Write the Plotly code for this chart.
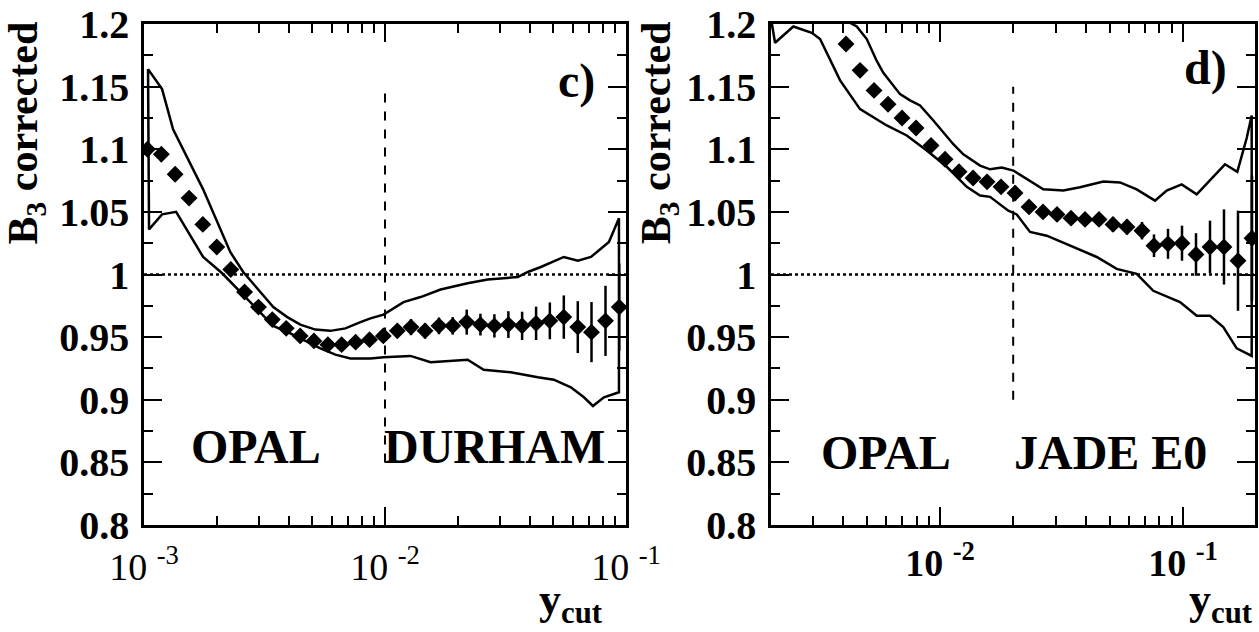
import math
import plotly.graph_objects as go

# ---------------- panel c) DURHAM ----------------
c_x = [1.033e-3, 1.180e-3, 1.346e-3, 1.538e-3, 1.754e-3, 2.004e-3, 2.291e-3, 2.614e-3,
       2.985e-3, 3.407e-3, 3.890e-3, 4.446e-3, 5.070e-3, 5.794e-3, 6.607e-3, 7.551e-3,
       8.630e-3, 9.840e-3, 1.125e-2, 1.282e-2, 1.466e-2, 1.675e-2, 1.910e-2, 2.183e-2,
       2.489e-2, 2.844e-2, 3.251e-2, 3.707e-2, 4.236e-2, 4.831e-2, 5.521e-2, 6.310e-2,
       7.194e-2, 8.222e-2, 9.376e-2]
c_y = [1.100, 1.096, 1.080, 1.061, 1.040, 1.022, 1.004, 0.986, 0.974, 0.964,
       0.957, 0.951, 0.947, 0.944, 0.944, 0.946, 0.948, 0.951, 0.955, 0.958,
       0.955, 0.959, 0.959, 0.962, 0.960, 0.959, 0.960, 0.959, 0.961, 0.963,
       0.966, 0.958, 0.954, 0.963, 0.974]
c_err = [0.002, 0.002, 0.002, 0.002, 0.002, 0.002, 0.002, 0.002, 0.002, 0.002,
         0.002, 0.002, 0.002, 0.002, 0.002, 0.002, 0.003, 0.003, 0.004, 0.0064,
         0.006, 0.0067, 0.007, 0.010, 0.0087, 0.0093, 0.0107, 0.0113, 0.0133, 0.0147,
         0.0173, 0.0207, 0.024, 0.028, 0.035]
c_up_x = [1.039e-3, 1.188e-3, 1.320e-3, 1.759e-3, 2.279e-3, 2.580e-3, 3.439e-3, 3.932e-3,
          4.453e-3, 5.140e-3, 5.934e-3, 6.851e-3, 7.908e-3, 8.703e-3, 9.858e-3, 1.194e-2,
          1.405e-2, 1.701e-2, 2.203e-2, 2.668e-2, 3.556e-2, 3.913e-2, 4.432e-2, 5.523e-2,
          6.317e-2, 7.155e-2, 8.499e-2, 9.352e-2]
c_up_y = [1.164, 1.148, 1.116, 1.068, 1.018, 1.002, 0.974, 0.966,
          0.960, 0.956, 0.955, 0.957, 0.962, 0.965, 0.968, 0.978,
          0.982, 0.988, 0.993, 0.996, 0.998, 1.002, 1.006, 1.014,
          1.011, 1.014, 1.026, 1.045]
c_lo_x = [1.049e-3, 1.188e-3, 1.359e-3, 1.759e-3, 2.110e-3, 2.507e-3, 2.951e-3, 3.439e-3,
          4.047e-3, 4.671e-3, 5.393e-3, 6.225e-3, 7.186e-3, 8.703e-3, 9.858e-3, 1.276e-2,
          1.546e-2, 2.203e-2, 2.568e-2, 3.325e-2, 4.307e-2, 5.019e-2, 5.906e-2, 6.691e-2,
          7.293e-2, 8.101e-2, 9.352e-2]
c_lo_y = [1.036, 1.048, 1.050, 1.014, 1.001, 0.986, 0.972, 0.959,
          0.953, 0.947, 0.941, 0.936, 0.933, 0.933, 0.934, 0.935,
          0.930, 0.932, 0.924, 0.922, 0.918, 0.916, 0.910, 0.902,
          0.895, 0.902, 0.906]

# ---------------- panel d) JADE E0 ----------------
d_x = [4.102e-3, 4.686e-3, 5.350e-3, 6.109e-3, 6.976e-3, 7.966e-3, 9.182e-3, 1.0486e-2,
       1.1974e-2, 1.3673e-2, 1.5613e-2, 1.7824e-2, 2.0354e-2, 2.3241e-2, 2.6537e-2, 3.0304e-2,
       3.4604e-2, 3.9512e-2, 4.5112e-2, 5.1513e-2, 5.8818e-2, 6.7795e-2, 7.5966e-2, 8.675e-2,
       9.906e-2, 1.1311e-1, 1.2915e-1, 1.4746e-1, 1.6838e-1, 1.9231e-1]
d_y = [1.184, 1.163, 1.147, 1.136, 1.125, 1.117, 1.103, 1.092, 1.082, 1.077,
       1.074, 1.070, 1.065, 1.054, 1.050, 1.048, 1.045, 1.044, 1.044, 1.040,
       1.038, 1.035, 1.023, 1.0245, 1.025, 1.016, 1.022, 1.022, 1.011, 1.029]
d_err = [0.002, 0.002, 0.002, 0.002, 0.002, 0.002, 0.002, 0.002, 0.002, 0.002,
         0.003, 0.003, 0.006, 0.003, 0.003, 0.003, 0.004, 0.004, 0.005, 0.006,
         0.006, 0.007, 0.009, 0.012, 0.014, 0.017, 0.021, 0.030, 0.040, 0.050]
d_up_x = [4.0e-3, 4.541e-3, 4.993e-3, 5.489e-3, 5.843e-3, 6.845e-3, 7.525e-3, 8.275e-3,
          9.385e-3, 1.1342e-2, 1.2469e-2, 1.4611e-2, 1.6063e-2, 1.7943e-2, 2.0028e-2, 2.3462e-2,
          2.6611e-2, 3.2173e-2, 3.7687e-2, 4.6989e-2, 5.5029e-2, 6.4476e-2, 7.669e-2, 8.568e-2,
          9.879e-2, 1.1387e-1, 1.2915e-1, 1.4887e-1, 1.6730e-1, 1.8290e-1, 1.9174e-1]
d_up_y = [1.204, 1.198, 1.188, 1.1705, 1.161, 1.144, 1.139, 1.135,
          1.123, 1.104, 1.096, 1.087, 1.084, 1.0855, 1.083, 1.075,
          1.068, 1.067, 1.0696, 1.0743, 1.0735, 1.068, 1.059, 1.067,
          1.072, 1.064, 1.075, 1.088, 1.082, 1.109, 1.127]
d_lo_x = [2.02e-3, 2.094e-3, 2.490e-3, 2.965e-3, 3.208e-3, 3.878e-3, 4.686e-3, 6.035e-3,
          7.295e-3, 8.816e-3, 1.0656e-2, 1.2878e-2, 1.4611e-2, 1.6063e-2, 1.9103e-2, 2.0684e-2,
          2.3462e-2, 2.7483e-2, 3.5370e-2, 4.4145e-2, 5.3359e-2, 6.4476e-2, 7.546e-2, 9.721e-2,
          1.1387e-1, 1.2915e-1, 1.4648e-1, 1.6634e-1, 1.9174e-1]
d_lo_y = [1.203, 1.185, 1.198, 1.193, 1.188, 1.155, 1.132, 1.119,
          1.111, 1.099, 1.086, 1.070, 1.063, 1.062, 1.051, 1.048,
          1.034, 1.031, 1.022, 1.014, 1.0045, 1.0006, 0.987, 0.978,
          0.967, 0.967, 0.958, 0.941, 0.935]

# reference lines
c_xrange = [1e-3, 1e-1]
d_xrange = [2.015e-3, 1.978e-1]
c_cut = 0.01
c_cut_y = [0.85, 1.15]
d_cut = 0.02
d_cut_y = [0.90, 1.15]

y_tickvals = [0.8, 0.85, 0.9, 0.95, 1.0, 1.05, 1.1, 1.15, 1.2]
y_ticktext = ["0.8", "0.85", "0.9", "0.95", "1", "1.05", "1.1", "1.15", "1.2"]
y_minor = [0.825, 0.875, 0.925, 0.975, 1.025, 1.075, 1.125, 1.175]
c_xticks = [1e-3, 1e-2, 1e-1]
c_xtext = ["10 <sup>-3</sup>", "10 <sup>-2</sup>", "10 <sup>-1</sup>"]
d_xticks = [1e-2, 1e-1]
d_xtext = ["10 <sup>-2</sup>", "10 <sup>-1</sup>"]
x_minor = [m * d for d in (1e-3, 1e-2, 1e-1) for m in range(2, 10)]

FONT = "Liberation Serif"
BLACK = "black"

fig = go.Figure()


def add_panel(xs, ys, errs, ux, uy, lx, ly, xr, cut, cut_y, xa, ya):
    band_x = list(ux) + list(lx[::-1]) + [ux[0]]
    band_y = list(uy) + list(ly[::-1]) + [uy[0]]
    fig.add_trace(go.Scatter(x=band_x, y=band_y, mode="lines",
                             line=dict(color=BLACK, width=2.5),
                             xaxis=xa, yaxis=ya, showlegend=False, hoverinfo="skip"))
    fig.add_trace(go.Scatter(x=xr, y=[1.0, 1.0], mode="lines",
                             line=dict(color=BLACK, width=2.5, dash="dot"),
                             xaxis=xa, yaxis=ya, showlegend=False))
    fig.add_trace(go.Scatter(x=[cut, cut], y=cut_y, mode="lines",
                             line=dict(color=BLACK, width=2, dash="dash"),
                             xaxis=xa, yaxis=ya, showlegend=False))
    fig.add_trace(go.Scatter(x=xs, y=ys, mode="markers",
                             marker=dict(symbol="diamond", size=13, color=BLACK),
                             error_y=dict(type="data", array=errs, color=BLACK,
                                          thickness=2.5, width=0),
                             xaxis=xa, yaxis=ya, showlegend=False))


add_panel(c_x, c_y, c_err, c_up_x, c_up_y, c_lo_x, c_lo_y, c_xrange, c_cut, c_cut_y, "x", "y")
add_panel(d_x, d_y, d_err, d_up_x, d_up_y, d_lo_x, d_lo_y, d_xrange, d_cut, d_cut_y, "x2", "y2")

common = dict(showline=True, linecolor=BLACK, linewidth=2.5, mirror="allticks",
              ticks="inside", ticklen=18, tickwidth=2, tickcolor=BLACK,
              showgrid=False, zeroline=False, automargin=False)
minor_common = dict(ticks="inside", ticklen=9, tickwidth=2, tickcolor=BLACK, showgrid=False)

ydom = [0.1693, 0.9620]
fig.update_layout(
    template="none",
    width=1259, height=632,
    margin=dict(l=0, r=0, t=0, b=0),
    paper_bgcolor="white", plot_bgcolor="white",
    font=dict(family=FONT, color=BLACK),
    xaxis=dict(domain=[0.1144, 0.4972], type="log",
               range=[math.log10(c_xrange[0]), math.log10(c_xrange[1])],
               tickvals=c_xticks, ticktext=c_xtext, anchor="y", ticklabelstandoff=7,
               tickfont=dict(family=FONT, size=38),
               minor=dict(tickvals=x_minor, **minor_common), **common),
    yaxis=dict(domain=ydom, range=[0.8, 1.2], anchor="x",
               tickvals=y_tickvals, ticktext=y_ticktext, ticklabelstandoff=4,
               tickfont=dict(family=FONT, size=40, weight="bold"),
               minor=dict(tickvals=y_minor, **minor_common), **common),
    xaxis2=dict(domain=[0.6124, 0.9968], type="log",
                range=[math.log10(d_xrange[0]), math.log10(d_xrange[1])],
                tickvals=d_xticks, ticktext=d_xtext, anchor="y2", ticklabelstandoff=3,
                tickfont=dict(family=FONT, size=38, weight="bold"),
                minor=dict(tickvals=x_minor, **minor_common), **common),
    yaxis2=dict(domain=ydom, range=[0.8, 1.2], anchor="x2",
                tickvals=y_tickvals, ticktext=y_ticktext, ticklabelstandoff=4,
                tickfont=dict(family=FONT, size=40, weight="bold"),
                minor=dict(tickvals=y_minor, **minor_common), **common),
)

bold = dict(family=FONT, size=48, color=BLACK, weight="bold")
ann = [
    ("x domain", "y domain", 0.232, 0.156, "OPAL"),
    ("x domain", "y domain", 0.728, 0.156, "DURHAM"),
    ("x domain", "y domain", 0.898, 0.886, "c)"),
    ("x2 domain", "y2 domain", 0.238, 0.145, "OPAL"),
    ("x2 domain", "y2 domain", 0.702, 0.145, "JADE E0"),
    ("x2 domain", "y2 domain", 0.897, 0.912, "d)"),
]
for xr_, yr_, xx, yy, txt in ann:
    fig.add_annotation(xref=xr_, yref=yr_, x=xx, y=yy, text=txt, showarrow=False,
                       xanchor="center", yanchor="middle", font=bold)

# x-axis titles
ycut_font = dict(family=FONT, size=44, color=BLACK, weight="bold")
fig.add_annotation(xref="x domain", yref="paper", x=0.956, y=0.0, text="y<sub>cut</sub>",
                   showarrow=False, xanchor="right", yanchor="bottom", font=ycut_font)
fig.add_annotation(xref="x2 domain", yref="paper", x=1.0, y=0.0, text="y<sub>cut</sub>",
                   showarrow=False, xanchor="right", yanchor="bottom", font=ycut_font)
# y-axis titles
for xp in (0.0214, 0.524):
    fig.add_annotation(xref="paper", yref="paper", x=xp, y=0.97, text="B<sub>3</sub> corrected",
                       textangle=-90, showarrow=False, xanchor="center", yanchor="top",
                       font=dict(family=FONT, size=42, color=BLACK, weight="bold"))

fig.write_html("out.html")
